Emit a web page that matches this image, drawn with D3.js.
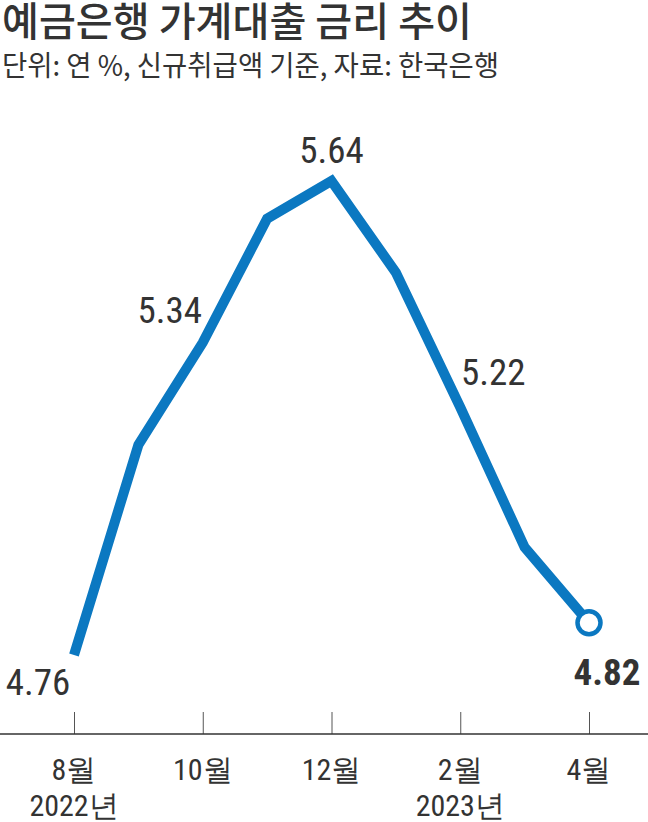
<!DOCTYPE html>
<html>
<head>
<meta charset="utf-8">
<script src="https://cdn.jsdelivr.net/npm/d3@7"></script>
<style>
body{margin:0;background:#fff;}
svg{display:block;}
</style>
</head>
<body>
<div id="chart"></div>
<script>
// monthly rates, Aug 2022 - Apr 2023
var months = ["8월","9월","10월","11월","12월","1월","2월","3월","4월"];
var rates = [4.76, 5.15, 5.34, 5.57, 5.64, 5.47, 5.22, 4.96, 4.82];
var tickMonths = ["8월","10월","12월","2월","4월"];
var yearLabels = [{m:"8월", t:"2022년"}, {m:"2월", t:"2023년"}];
var shownValues = ["8월","10월","12월","2월","4월"];

var W = 648, H = 822;
var numFont = "'Liberation Sans Narrow','Roboto Condensed','Liberation Sans',sans-serif";
var krFont = "'Noto Sans CJK KR','Noto Sans',sans-serif";
var textColor = "#333333";
var lineColor = "#0b78c1";

var svg = d3.select("#chart").append("svg")
    .attr("width", W)
    .attr("height", H);

var x = d3.scalePoint().domain(months).range([74, 589]);
var y = d3.scaleLinear().domain([4.76, 5.64]).range([655, 181]);

// title
svg.append("text")
    .attr("x", 2).attr("y", 36)
    .attr("textLength", 470)
    .attr("lengthAdjust", "spacingAndGlyphs")
    .style("font-family", krFont)
    .style("font-size", "40px")
    .style("font-weight", 500)
    .style("fill", textColor)
    .text("예금은행 가계대출 금리 추이");

svg.append("text")
    .attr("x", 2).attr("y", 76)
    .attr("textLength", 497)
    .attr("lengthAdjust", "spacingAndGlyphs")
    .style("font-family", krFont)
    .style("font-size", "28px")
    .style("fill", textColor)
    .text("단위: 연 %, 신규취급액 기준, 자료: 한국은행");

// x axis
var axisY = 734;
var axis = d3.axisBottom(x).tickValues(tickMonths).tickSize(0).tickFormat("");
var gx = svg.append("g").attr("transform", "translate(0," + axisY + ")").call(axis);
gx.select(".domain").remove();
svg.append("line")
    .attr("x1", 0).attr("x2", W)
    .attr("y1", axisY).attr("y2", axisY)
    .style("stroke", "#333").style("stroke-width", 1.5);
gx.selectAll(".tick line")
    .attr("y1", -22).attr("y2", 0)
    .style("stroke", "#555").style("stroke-width", 1);

svg.selectAll(".mlabel")
    .data(tickMonths)
    .enter().append("text")
    .attr("class", "mlabel")
    .attr("x", function(d){return x(d);})
    .attr("y", 780)
    .attr("text-anchor", "middle")
    .style("font-family", numFont)
    .style("font-size", "30px")
    .style("fill", textColor)
    .text(function(d){return d;});

svg.selectAll(".ylabel")
    .data(yearLabels)
    .enter().append("text")
    .attr("class", "ylabel")
    .attr("x", function(d){return x(d.m);})
    .attr("y", 816)
    .attr("text-anchor", "middle")
    .style("font-family", numFont)
    .style("font-size", "30px")
    .style("fill", textColor)
    .text(function(d){return d.t;});

// line
var line = d3.line()
    .x(function(d, i){return x(months[i]);})
    .y(function(d){return y(d);});

svg.append("path")
    .datum(rates)
    .attr("d", line)
    .style("fill", "none")
    .style("stroke", lineColor)
    .style("stroke-width", 10)
    .style("stroke-linejoin", "miter");

var last = rates.length - 1;
svg.append("circle")
    .attr("cx", x(months[last]))
    .attr("cy", y(rates[last]))
    .attr("r", 11.5)
    .style("fill", "#fff")
    .style("stroke", lineColor)
    .style("stroke-width", 4.5);

// value labels
var labelPos = {
    "8월": {dx: -36, dy: 40},
    "10월": {dx: -33, dy: -20},
    "12월": {dx: 0, dy: -18},
    "2월": {dx: 33, dy: -22},
    "4월": {dx: 18, dy: 62}
};
svg.selectAll(".vlabel")
    .data(shownValues)
    .enter().append("text")
    .attr("class", "vlabel")
    .attr("x", function(d){return x(d) + labelPos[d].dx;})
    .attr("y", function(d){return y(rates[months.indexOf(d)]) + labelPos[d].dy;})
    .attr("text-anchor", "middle")
    .style("font-family", numFont)
    .style("font-size", "37px")
    .style("font-weight", function(d){return d == "4월" ? 700 : 400;})
    .style("fill", textColor)
    .text(function(d){return rates[months.indexOf(d)].toFixed(2);});
</script>
</body>
</html>
